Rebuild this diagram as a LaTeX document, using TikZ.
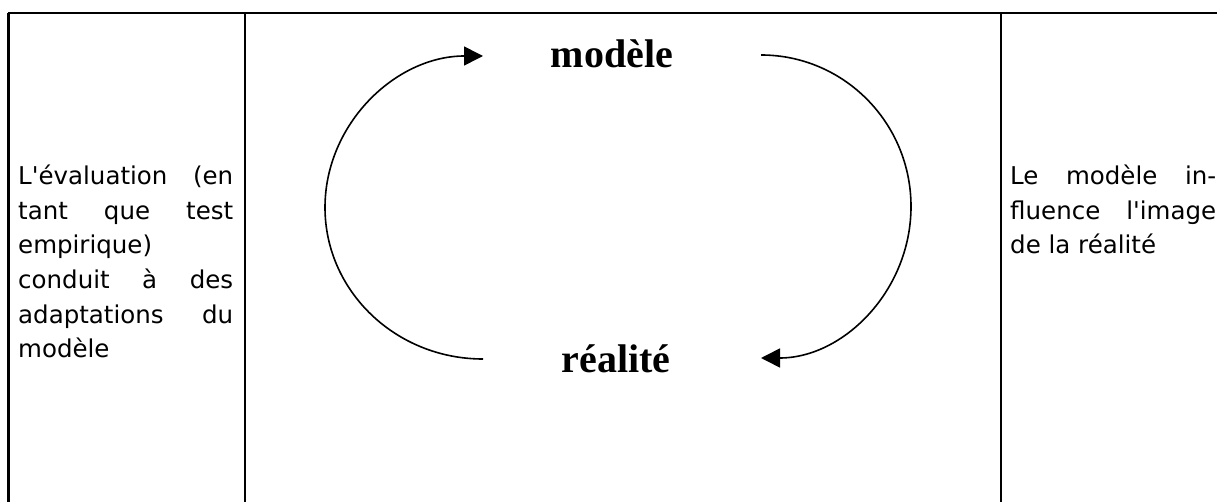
\documentclass[tikz,border=0pt]{standalone}
\usepackage{fontspec}
\setmainfont{Liberation Serif}
\newfontfamily\verd{DejaVu Sans}
\usetikzlibrary{arrows.meta}
\begin{document}
\begin{tikzpicture}[x=1pt,y=1pt,
  rule/.style={line width=2.6pt},
  flow/.style={line width=1.6pt, -{Triangle[length=19pt,width=19pt]}},
  keyword/.style={font=\fontsize{40}{48}\selectfont\bfseries, inner sep=0pt, anchor=base},
  cell/.style={font=\verd\fontsize{24.5}{34.5}\selectfont, inner sep=0pt, anchor=base west}
]
\useasboundingbox (0,0) rectangle (1217,501);
% table rules
\coordinate (tl) at (8.3,488);
\coordinate (tr) at (1230,488);
\coordinate (bl) at (8.3,-10);
\coordinate (ml) at (245,488);
\coordinate (mb) at (245,-10);
\coordinate (rl) at (1001,488);
\coordinate (rb) at (1001,-10);
\draw[rule] (tl) -- (tr);
\draw[rule] (tl) -- (bl);
\draw[rule] (ml) -- (mb);
\draw[rule] (rl) -- (rb);
% keywords
\node[keyword] (modele) at (612,433) {modèle};
\node[keyword] (realite) at (616,129) {réalité};
% cycle arrows
\coordinate (lstart) at (483,142);
\coordinate (rstart) at (761,446);
\draw[flow] (lstart) arc[start angle=-90, end angle=-270, x radius=158, y radius=151.5];
\draw[flow] (rstart) arc[start angle=90, end angle=-90, x radius=150, y radius=151.5];
% left column
\node[cell] (l1) at (18,316) {\makebox[215pt][s]{L'évaluation (en}};
\node[cell] (l2) at (18,281.5) {\makebox[215pt][s]{tant que test}};
\node[cell] (l3) at (18,247) {empirique)};
\node[cell] (l4) at (18,212.5) {\makebox[215pt][s]{conduit à des}};
\node[cell] (l5) at (18,178) {\makebox[215pt][s]{adaptations du}};
\node[cell] (l6) at (18,143.5) {modèle};
% right column
\node[cell] (r1) at (1010,316) {\makebox[206pt][s]{Le modèle in-}};
\node[cell] (r2) at (1010,281.5) {\makebox[206pt][s]{fluence l'image}};
\node[cell] (r3) at (1010,247) {de la réalité};
\end{tikzpicture}
\end{document}
